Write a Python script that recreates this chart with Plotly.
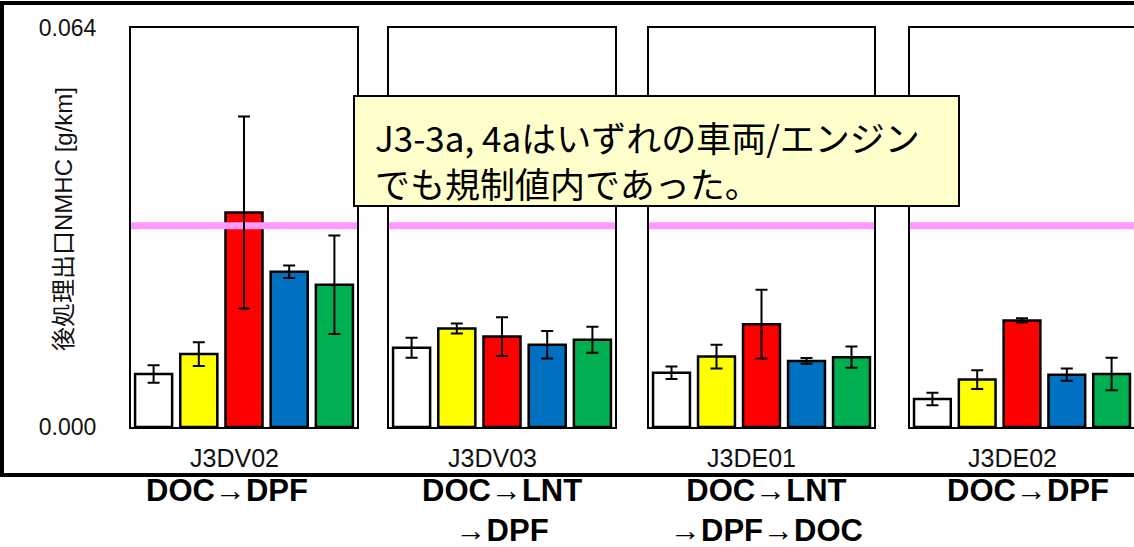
import plotly.graph_objects as go

# ---------------- data ----------------
vehicles = ["J3DV02", "J3DV03", "J3DE01", "J3DE02"]
configs = ["DOC→DPF", "DOC→LNT<br>→DPF", "DOC→LNT<br>→DPF→DOC", "DOC→DPF"]
conditions = ["A", "B", "C", "D", "E"]
bar_colors = ["#FFFFFF", "#FFFF00", "#FF0000", "#0070C0", "#00B050"]

nmhc_J3DV02 = [0.0085, 0.0117, 0.0344, 0.0249, 0.0228]
nmhc_J3DV03 = [0.0127, 0.0158, 0.0145, 0.0132, 0.0140]
nmhc_J3DE01 = [0.0087, 0.0113, 0.0165, 0.0106, 0.0112]
nmhc_J3DE02 = [0.0045, 0.0076, 0.0171, 0.0084, 0.0085]

err_J3DV02 = [0.0014, 0.0019, 0.0154, 0.0010, 0.0079]
err_J3DV03 = [0.0016, 0.0008, 0.0031, 0.0022, 0.0021]
err_J3DE01 = [0.0010, 0.0019, 0.0055, 0.00045, 0.0017]
err_J3DE02 = [0.0010, 0.0015, 0.00035, 0.0010, 0.0026]

limit_value = 0.0323
y_ticks = [0.0, 0.064]

y_title = "後処理出口NMHC [g/km]"
note_lines = ["J3-3a, 4aはいずれの車両/エンジン", "でも規制値内であった。"]

values = [nmhc_J3DV02, nmhc_J3DV03, nmhc_J3DE01, nmhc_J3DE02]
errors = [err_J3DV02, err_J3DV03, err_J3DE01, err_J3DE02]

# ---------------- layout helpers ----------------
W, H = 1134, 547
panel_px = [(131, 357), (389, 615), (649, 874), (910, 1134)]
y_bot_px, y_top_px = 427, 28
config_x_px = [227, 502, 766, 1028]

FONT = "Liberation Sans, Arial, Noto Sans CJK JP, sans-serif"
JFONT = "Noto Sans CJK JP, Liberation Sans, sans-serif"

def py(p):
    return (H - p) / H

fig = go.Figure()
positions = list(range(len(conditions)))
xr = [-0.5, len(conditions) - 0.5]

for i, veh in enumerate(vehicles):
    xa = "x" if i == 0 else f"x{i+1}"
    ya = "y" if i == 0 else f"y{i+1}"
    fig.add_trace(go.Bar(
        x=positions, y=values[i], width=0.82,
        marker=dict(color=bar_colors, line=dict(color="black", width=2.5)),
        xaxis=xa, yaxis=ya, hoverinfo="skip", showlegend=False,
    ))
    fig.add_trace(go.Scatter(
        x=xr, y=[limit_value, limit_value], mode="lines",
        line=dict(color="#FF99FF", width=7),
        xaxis=xa, yaxis=ya, hoverinfo="skip", showlegend=False,
    ))
    fig.add_trace(go.Scatter(
        x=positions, y=values[i], mode="markers",
        marker=dict(size=1, opacity=0),
        error_y=dict(type="data", array=errors[i], color="black", thickness=2, width=6),
        xaxis=xa, yaxis=ya, hoverinfo="skip", showlegend=False,
    ))

layout = dict(
    width=W, height=H, autosize=False,
    margin=dict(l=0, r=0, t=0, b=0, pad=0, autoexpand=False),
    paper_bgcolor="white", plot_bgcolor="white",
    font=dict(family=FONT, color="black"),
    showlegend=False,
)

for i, (x0, x1) in enumerate(panel_px):
    xk = "xaxis" if i == 0 else f"xaxis{i+1}"
    yk = "yaxis" if i == 0 else f"yaxis{i+1}"
    xa_id = "x" if i == 0 else f"x{i+1}"
    ya_id = "y" if i == 0 else f"y{i+1}"
    layout[xk] = dict(
        domain=[x0 / W, min(x1 / W, 1.0)], range=xr, anchor=ya_id,
        showline=True, mirror=True, linecolor="black", linewidth=2,
        showgrid=False, zeroline=False, showticklabels=False, ticks="",
        fixedrange=True, automargin=False,
    )
    ydict = dict(
        domain=[py(y_bot_px), py(y_top_px)], range=[0, 0.064], anchor=xa_id,
        showline=True, mirror=True, linecolor="black", linewidth=2,
        showgrid=False, zeroline=False, fixedrange=True, automargin=False,
    )
    if i == 0:
        ydict.update(tickvals=y_ticks, tickformat=".3f", ticks="outside",
                     ticklen=28, tickcolor="rgba(0,0,0,0)",
                     tickfont=dict(size=23, family=FONT, color="#111"))
    else:
        ydict.update(showticklabels=False, ticks="")
    layout[yk] = ydict

annotations = []
# y title
annotations.append(dict(
    text=y_title, x=63 / W, y=py(219), xref="paper", yref="paper",
    textangle=-90, showarrow=False, xanchor="center", yanchor="middle",
    font=dict(size=24, family=FONT, color="#111"),
))
# vehicle labels and configs
for i, (x0, x1) in enumerate(panel_px):
    xd = "x domain" if i == 0 else f"x{i+1} domain"
    annotations.append(dict(
        text=vehicles[i], x=0.456, y=py(458), xref=xd, yref="paper",
        showarrow=False, xanchor="center", yanchor="middle",
        font=dict(size=25, family=FONT, color="#111"),
    ))
    annotations.append(dict(
        text="<b>" + configs[i].replace("<br>", "</b><br><b>") + "</b>",
        x=config_x_px[i] / W, y=py(471), xref="paper", yref="paper",
        showarrow=False, xanchor="center", yanchor="top", align="center",
        font=dict(size=31, family=FONT, color="black"),
    ))
# note box text (single block, two lines)
annotations.append(dict(
    text="<br>".join(note_lines), x=373 / W, y=py(109), xref="paper", yref="paper",
    showarrow=False, xanchor="left", yanchor="top", align="left",
    font=dict(size=35, family=JFONT, color="black"),
))
layout["annotations"] = annotations

layout["shapes"] = [
    # outer frame
    dict(type="rect", xref="paper", yref="paper",
         x0=2 / W, x1=1.05, y0=py(475), y1=py(3),
         line=dict(color="black", width=4), fillcolor="rgba(0,0,0,0)", layer="above"),
    # note box
    dict(type="rect", xref="paper", yref="paper",
         x0=354 / W, x1=959 / W, y0=py(206), y1=py(96),
         line=dict(color="black", width=2), fillcolor="#FFFFCC", layer="above"),
]

fig.update_layout(**layout)
fig.write_html("out.html", config={"displayModeBar": False})
